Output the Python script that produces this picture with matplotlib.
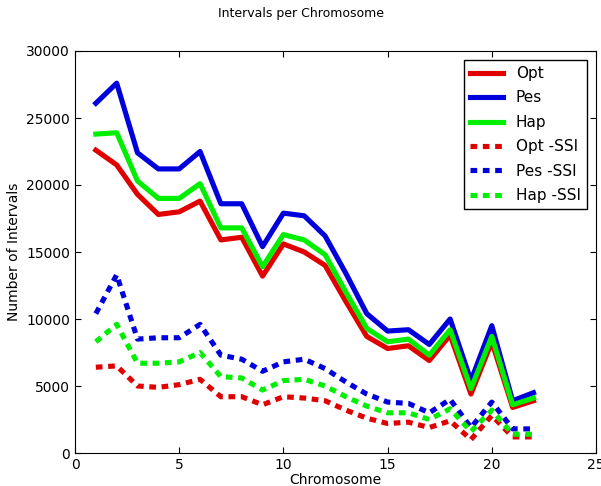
import numpy as np
import matplotlib.pyplot as plt

chrom = np.arange(1, 23)

opt = [22600, 21500, 19300, 17800, 18000, 18800, 15900, 16100, 13200, 15600, 15000,
       14000, 11300, 8700, 7800, 8000, 6900, 8800, 4400, 8300, 3400, 3900]
pes = [26100, 27600, 22400, 21200, 21200, 22500, 18600, 18600, 15400, 17900, 17700,
       16200, 13400, 10400, 9100, 9200, 8100, 10000, 5400, 9500, 3900, 4500]
hap = [23800, 23900, 20300, 19000, 19000, 20100, 16800, 16800, 13900, 16300, 15900,
       14800, 12000, 9300, 8300, 8500, 7300, 9200, 4800, 8700, 3600, 4100]
opt_ssi = [6400, 6500, 5000, 4900, 5100, 5500, 4200, 4200, 3600, 4200, 4100,
           3900, 3200, 2600, 2200, 2300, 1900, 2400, 1000, 2800, 1200, 1200]
pes_ssi = [10400, 13300, 8500, 8600, 8600, 9600, 7300, 7000, 6100, 6800, 7000,
           6300, 5300, 4400, 3800, 3700, 3000, 4000, 1900, 3800, 1800, 1800]
hap_ssi = [8300, 9600, 6700, 6700, 6800, 7500, 5700, 5600, 4700, 5400, 5500,
           5000, 4200, 3500, 3000, 3000, 2500, 3300, 1600, 3200, 1400, 1400]

red, blue, green = '#e00000', '#0000dd', '#00ee00'
dash = (0, (1.3, 1.1))

fig = plt.figure(figsize=(6.01, 4.86), dpi=100)
ax = fig.add_axes([75/601, 1 - 453/486, (596-75)/601, (453-51)/486])

ax.plot(chrom, opt, color=red, lw=3.7, label='Opt')
ax.plot(chrom, pes, color=blue, lw=3.7, label='Pes')
ax.plot(chrom, hap, color=green, lw=3.7, label='Hap')
ax.plot(chrom, opt_ssi, color=red, lw=3.7, ls=dash, label='Opt -SSI')
ax.plot(chrom, pes_ssi, color=blue, lw=3.7, ls=dash, label='Pes -SSI')
ax.plot(chrom, hap_ssi, color=green, lw=3.7, ls=dash, label='Hap -SSI')

ax.set_xlim(0, 25)
ax.set_ylim(0, 30000)
ax.set_xticks([0, 5, 10, 15, 20, 25])
ax.set_yticks(np.arange(0, 30001, 5000))
ax.tick_params(direction='in', labelsize=10, top=True, right=True, length=4)
ax.set_xlabel('Chromosome', fontsize=10, labelpad=1)
ax.set_ylabel('Number of Intervals', fontsize=10)
fig.suptitle('Intervals per Chromosome', fontsize=9, y=0.985)

leg = ax.legend(loc='upper right', fontsize=11, fancybox=False, handlelength=2.2,
                borderpad=0.4, labelspacing=0.62, framealpha=1,
                bbox_to_anchor=(0.997, 0.997))
leg.get_frame().set_edgecolor('black')

fig.savefig('out.png', dpi=100)
